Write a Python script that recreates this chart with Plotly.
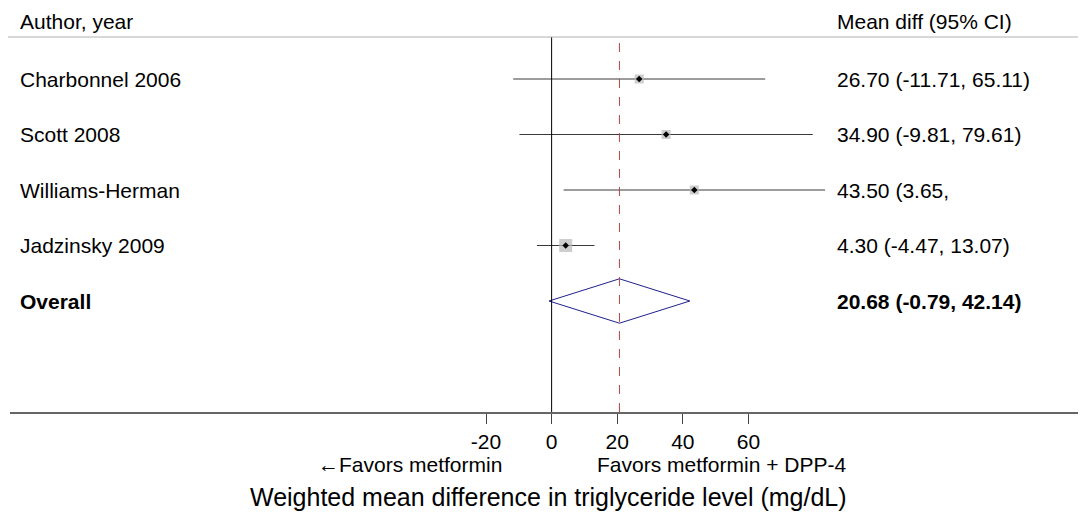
import plotly.graph_objects as go

studies = ["Charbonnel 2006", "Scott 2008", "Williams-Herman", "Jadzinsky 2009"]
mean_diff = [26.70, 34.90, 43.50, 4.30]
ci_low = [-11.71, -9.81, 3.65, -4.47]
ci_high = [65.11, 79.61, 83.35, 13.07]
ci_text = ["26.70 (-11.71, 65.11)", "34.90 (-9.81, 79.61)", "43.50 (3.65,", "4.30 (-4.47, 13.07)"]
box_size = [9, 9, 9, 13]

overall_label = "Overall"
overall_mean = 20.68
overall_low = -0.79
overall_high = 42.14
overall_text = "20.68 (-0.79, 42.14)"

tick_vals = [-20, 0, 20, 40, 60]
tick_text = ["-20", "0", "20", "40", "60"]

rows = list(range(len(studies)))
overall_row = len(studies)

fig = go.Figure()

# confidence intervals
for i in rows:
    fig.add_trace(go.Scatter(
        x=[ci_low[i], ci_high[i]], y=[i, i], mode="lines",
        line=dict(color="#3a3a3a", width=1), showlegend=False, hoverinfo="skip"))

# weight boxes
fig.add_trace(go.Scatter(
    x=mean_diff, y=rows, mode="markers",
    marker=dict(symbol="square", size=box_size, color="#b8b8b8", line=dict(width=0)),
    showlegend=False, hoverinfo="skip"))
# point estimates
fig.add_trace(go.Scatter(
    x=mean_diff, y=rows, mode="markers",
    marker=dict(symbol="diamond", size=5, color="black"),
    showlegend=False, hoverinfo="skip"))

# overall diamond
fig.add_trace(go.Scatter(
    x=[overall_low, overall_mean, overall_high, overall_mean, overall_low],
    y=[overall_row, overall_row - 0.4, overall_row, overall_row + 0.4, overall_row],
    mode="lines", line=dict(color="#1f1f8f", width=1),
    showlegend=False, hoverinfo="skip"))

# reference lines
fig.add_shape(type="line", x0=0, x1=0, y0=0, y1=1, xref="x", yref="paper",
              line=dict(color="black", width=1))
fig.add_shape(type="line", x0=overall_mean, x1=overall_mean, y0=0, y1=1, xref="x", yref="paper",
              line=dict(color="#b04848", width=1, dash="dash"))
# header rule
fig.add_shape(type="line", x0=-0.002, x1=1, y0=1, y1=1, xref="paper", yref="paper",
              line=dict(color="#b0b0b0", width=1))

font = dict(family="Liberation Sans, Arial", size=21, color="black")

anns = []
anns.append(dict(text="Author, year", x=0.0074, y=1.04, xref="paper", yref="paper",
                 xanchor="left", yanchor="middle", showarrow=False, font=font))
anns.append(dict(text="Mean diff (95% CI)", x=0.7667, y=1.04, xref="paper", yref="paper",
                 xanchor="left", yanchor="middle", showarrow=False, font=font))
for i in rows:
    anns.append(dict(text=studies[i], x=0.0074, y=i, xref="paper", yref="y",
                     xanchor="left", yanchor="middle", showarrow=False, font=font))
    anns.append(dict(text=ci_text[i], x=0.7667, y=i, xref="paper", yref="y",
                     xanchor="left", yanchor="middle", showarrow=False, font=font))
anns.append(dict(text="<b>" + overall_label + "</b>", x=0.0074, y=overall_row, xref="paper", yref="y",
                 xanchor="left", yanchor="middle", showarrow=False, font=font))
anns.append(dict(text="<b>" + overall_text + "</b>", x=0.7667, y=overall_row, xref="paper", yref="y",
                 xanchor="left", yanchor="middle", showarrow=False, font=font))
anns.append(dict(text="<span style=\"font-family:'Liberation Serif'\">←</span>Favors metformin",
                 x=0.2844, y=-0.1413, xref="paper", yref="paper",
                 xanchor="left", yanchor="middle", showarrow=False, font=font))
anns.append(dict(text="Favors metformin + DPP-4", x=0.5437, y=-0.1413, xref="paper", yref="paper",
                 xanchor="left", yanchor="middle", showarrow=False, font=font))
anns.append(dict(text="Weighted mean difference in triglyceride level (mg/dL)", x=0.5, y=-0.2267,
                 xref="paper", yref="paper", xanchor="center", yanchor="middle", showarrow=False,
                 font=dict(family="Liberation Sans, Arial", size=25, color="black")))

# the page body adds an 8px margin, so the figure is 8px smaller each way
fig.update_layout(
    width=1078, height=504,
    margin=dict(l=2, r=0, t=29, b=100),
    plot_bgcolor="white", paper_bgcolor="white",
    annotations=anns,
    font=font,
    xaxis=dict(range=[-165.1, 162.9], tickvals=tick_vals, ticktext=tick_text,
               ticks="outside", ticklen=10, tickcolor="#444444",
               showline=True, linecolor="#666666", linewidth=2,
               showgrid=False, zeroline=False, tickfont=dict(size=21), fixedrange=True),
    yaxis=dict(range=[6.0, -0.757], visible=False, showgrid=False, zeroline=False),
)

fig.write_html("out.html")
